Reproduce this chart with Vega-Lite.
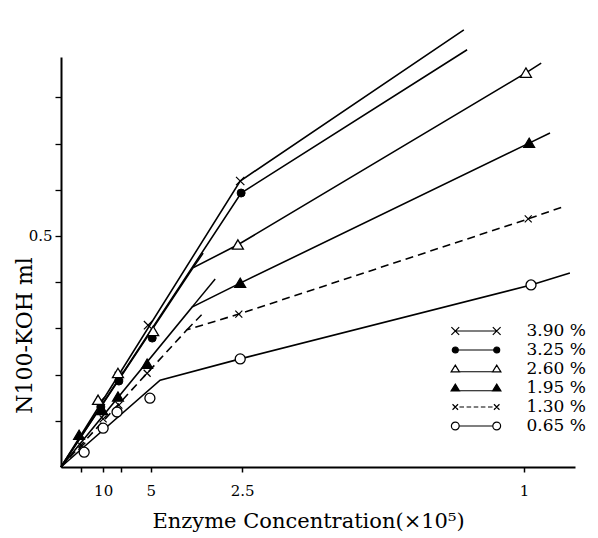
{
  "$schema": "https://vega.github.io/schema/vega-lite/v6.json",
  "autosize": "none",
  "padding": {"left": 61, "top": 57, "right": 23, "bottom": 71},
  "width": 514,
  "height": 410,
  "background": "white",
  "config": {"view": {"stroke": null}, "font": "DejaVu Serif"},
  "datasets": {
    "pts": [
      {"s": "3.90 %", "x": 0.086, "y": 0.143},
      {"s": "3.90 %", "x": 0.125, "y": 0.197},
      {"s": "3.90 %", "x": 0.188, "y": 0.307},
      {"s": "3.90 %", "x": 0.387, "y": 0.619},
      {"s": "3.25 %", "x": 0.086, "y": 0.130},
      {"s": "3.25 %", "x": 0.125, "y": 0.186},
      {"s": "3.25 %", "x": 0.197, "y": 0.279},
      {"s": "3.25 %", "x": 0.389, "y": 0.593},
      {"s": "2.60 %", "x": 0.080, "y": 0.145},
      {"s": "2.60 %", "x": 0.123, "y": 0.203},
      {"s": "2.60 %", "x": 0.199, "y": 0.294},
      {"s": "2.60 %", "x": 0.382, "y": 0.481},
      {"s": "2.60 %", "x": 1.004, "y": 0.853},
      {"s": "1.95 %", "x": 0.039, "y": 0.069},
      {"s": "1.95 %", "x": 0.089, "y": 0.123},
      {"s": "1.95 %", "x": 0.123, "y": 0.152},
      {"s": "1.95 %", "x": 0.186, "y": 0.223},
      {"s": "1.95 %", "x": 0.387, "y": 0.398},
      {"s": "1.95 %", "x": 1.011, "y": 0.701},
      {"s": "1.30 %", "x": 0.045, "y": 0.045},
      {"s": "1.30 %", "x": 0.091, "y": 0.104},
      {"s": "1.30 %", "x": 0.125, "y": 0.134},
      {"s": "1.30 %", "x": 0.186, "y": 0.203},
      {"s": "1.30 %", "x": 0.384, "y": 0.331},
      {"s": "1.30 %", "x": 1.009, "y": 0.537},
      {"s": "0.65 %", "x": 0.050, "y": 0.032},
      {"s": "0.65 %", "x": 0.091, "y": 0.084},
      {"s": "0.65 %", "x": 0.121, "y": 0.119},
      {"s": "0.65 %", "x": 0.192, "y": 0.149},
      {"s": "0.65 %", "x": 0.387, "y": 0.234},
      {"s": "0.65 %", "x": 1.015, "y": 0.394}
    ],
    "lines": [
      {"s": "3.90 %", "o": 1, "x": 0, "y": 0},
      {"s": "3.90 %", "o": 2, "x": 0.387, "y": 0.619},
      {"s": "3.90 %", "o": 3, "x": 0.870, "y": 0.946},
      {"s": "3.25 %", "o": 1, "x": 0, "y": 0},
      {"s": "3.25 %", "o": 2, "x": 0.389, "y": 0.593},
      {"s": "3.25 %", "o": 3, "x": 0.877, "y": 0.903},
      {"s": "2.60 %", "o": 1, "x": 0, "y": 0},
      {"s": "2.60 %", "o": 2, "x": 0.285, "y": 0.431},
      {"s": "2.60 %", "o": 3, "x": 0.382, "y": 0.481},
      {"s": "2.60 %", "o": 4, "x": 1.004, "y": 0.853},
      {"s": "2.60 %", "o": 5, "x": 1.037, "y": 0.874},
      {"s": "1.95 %", "o": 1, "x": 0, "y": 0},
      {"s": "1.95 %", "o": 2, "x": 0.283, "y": 0.346},
      {"s": "1.95 %", "o": 3, "x": 0.387, "y": 0.398},
      {"s": "1.95 %", "o": 4, "x": 1.011, "y": 0.701},
      {"s": "1.95 %", "o": 5, "x": 1.056, "y": 0.723},
      {"s": "1.30 %", "o": 1, "x": 0, "y": 0},
      {"s": "1.30 %", "o": 2, "x": 0.272, "y": 0.297},
      {"s": "1.30 %", "o": 3, "x": 0.384, "y": 0.331},
      {"s": "1.30 %", "o": 4, "x": 1.009, "y": 0.537},
      {"s": "1.30 %", "o": 5, "x": 1.089, "y": 0.565},
      {"s": "0.65 %", "o": 1, "x": 0, "y": 0},
      {"s": "0.65 %", "o": 2, "x": 0.214, "y": 0.188},
      {"s": "0.65 %", "o": 3, "x": 0.387, "y": 0.234},
      {"s": "0.65 %", "o": 4, "x": 1.015, "y": 0.394},
      {"s": "0.65 %", "o": 5, "x": 1.099, "y": 0.420}
    ],
    "stubs": [
      {"s": "2.60 %", "g": "a", "x": 0.285, "y": 0.431},
      {"s": "2.60 %", "g": "a", "x": 0.307, "y": 0.463},
      {"s": "1.95 %", "g": "b", "x": 0.283, "y": 0.346},
      {"s": "1.95 %", "g": "b", "x": 0.333, "y": 0.407},
      {"s": "1.30 %", "g": "c", "x": 0.272, "y": 0.297},
      {"s": "1.30 %", "g": "c", "x": 0.305, "y": 0.331}
    ]
  },
  "layer": [
    {
      "data": {"name": "lines"},
      "transform": [{"filter": "datum.s !== '1.30 %'"}],
      "mark": {"type": "line", "stroke": "black", "strokeWidth": 1.6},
      "encoding": {
        "x": {
          "field": "x", "type": "quantitative",
          "scale": {"domain": [0, 1.11], "nice": false, "zero": false},
          "axis": {
            "values": [0.043, 0.091, 0.13, 0.194, 0.391, 1.0],
            "labelExpr": "datum.value == 0.091 ? '10' : datum.value == 0.194 ? '5' : datum.value == 0.391 ? '2.5' : datum.value == 1 ? '1' : ''",
            "grid": false,
            "domainColor": "black", "domainWidth": 2,
            "tickColor": "black", "tickSize": 5, "tickWidth": 1.5,
            "labelFont": "DejaVu Serif", "labelFontSize": 15, "labelColor": "black",
            "labelPadding": 11, "labelFlush": false, "labelOverlap": false,
            "title": "Enzyme Concentration(×10⁵)",
            "titleFont": "DejaVu Serif", "titleFontSize": 21, "titleFontWeight": "normal",
            "titleColor": "black", "titleX": 247, "titleY": 54, "titleBaseline": "middle"
          }
        },
        "y": {
          "field": "y", "type": "quantitative",
          "scale": {"domain": [0, 0.8874], "nice": false, "zero": false},
          "axis": {
            "values": [0.1, 0.2, 0.3, 0.4, 0.5, 0.6, 0.7, 0.8],
            "labelExpr": "datum.value == 0.5 ? '0.5' : ''",
            "grid": false,
            "domainColor": "black", "domainWidth": 2,
            "tickColor": "black", "tickSize": 6, "tickWidth": 1.3,
            "labelFont": "DejaVu Serif", "labelFontSize": 15, "labelColor": "black",
            "labelPadding": 3, "labelOverlap": false,
            "title": "N100-KOH ml",
            "titleFont": "DejaVu Serif", "titleFontSize": 22, "titleFontWeight": "normal",
            "titleColor": "black", "titleX": -25, "titleY": 278
          }
        },
        "detail": {"field": "s"},
        "order": {"field": "o"}
      }
    },
    {
      "data": {"name": "lines"},
      "transform": [{"filter": "datum.s === '1.30 %'"}],
      "mark": {"type": "line", "stroke": "black", "strokeWidth": 1.6, "strokeDash": [8, 5]},
      "encoding": {
        "x": {"field": "x", "type": "quantitative"},
        "y": {"field": "y", "type": "quantitative"},
        "order": {"field": "o"}
      }
    },
    {
      "data": {"name": "stubs"},
      "transform": [{"filter": "datum.s !== '1.30 %'"}],
      "mark": {"type": "line", "stroke": "black", "strokeWidth": 1.5},
      "encoding": {
        "x": {"field": "x", "type": "quantitative"},
        "y": {"field": "y", "type": "quantitative"},
        "detail": {"field": "g"}
      }
    },
    {
      "data": {"name": "stubs"},
      "transform": [{"filter": "datum.s === '1.30 %'"}],
      "mark": {"type": "line", "stroke": "black", "strokeWidth": 1.5, "strokeDash": [8, 5]},
      "encoding": {
        "x": {"field": "x", "type": "quantitative"},
        "y": {"field": "y", "type": "quantitative"}
      }
    },
    {
      "data": {"name": "pts"},
      "transform": [{"filter": "datum.s === '3.90 %'"}],
      "mark": {"type": "point", "shape": "M-1,-1L1,1M-1,1L1,-1", "size": 70, "stroke": "black", "strokeWidth": 1.2, "fill": "transparent", "opacity": 1},
      "encoding": {
        "x": {"field": "x", "type": "quantitative"},
        "y": {"field": "y", "type": "quantitative"}
      }
    },
    {
      "data": {"name": "pts"},
      "transform": [{"filter": "datum.s === '1.30 %'"}],
      "mark": {"type": "point", "shape": "M-1,-1L1,1M-1,1L1,-1", "size": 49, "stroke": "black", "strokeWidth": 1.2, "fill": "transparent", "opacity": 1},
      "encoding": {
        "x": {"field": "x", "type": "quantitative"},
        "y": {"field": "y", "type": "quantitative"}
      }
    },
    {
      "data": {"name": "pts"},
      "transform": [{"filter": "datum.s === '3.25 %'"}],
      "mark": {"type": "point", "shape": "circle", "size": 64, "stroke": "black", "strokeWidth": 1, "fill": "black", "filled": true, "opacity": 1},
      "encoding": {
        "x": {"field": "x", "type": "quantitative"},
        "y": {"field": "y", "type": "quantitative"}
      }
    },
    {
      "data": {"name": "pts"},
      "transform": [{"filter": "datum.s === '2.60 %'"}],
      "mark": {"type": "point", "shape": "M0,-0.9L1,0.8L-1,0.8Z", "size": 121, "stroke": "black", "strokeWidth": 1.3, "fill": "white", "filled": true, "opacity": 1},
      "encoding": {
        "x": {"field": "x", "type": "quantitative"},
        "y": {"field": "y", "type": "quantitative"}
      }
    },
    {
      "data": {"name": "pts"},
      "transform": [{"filter": "datum.s === '1.95 %'"}],
      "mark": {"type": "point", "shape": "M0,-0.9L1,0.8L-1,0.8Z", "size": 121, "stroke": "black", "strokeWidth": 1.2, "fill": "black", "filled": true, "opacity": 1},
      "encoding": {
        "x": {"field": "x", "type": "quantitative"},
        "y": {"field": "y", "type": "quantitative"}
      }
    },
    {
      "data": {"name": "pts"},
      "transform": [{"filter": "datum.s === '0.65 %'"}],
      "mark": {"type": "point", "shape": "circle", "size": 100, "stroke": "black", "strokeWidth": 1.3, "fill": "white", "filled": true, "opacity": 1},
      "encoding": {
        "x": {"field": "x", "type": "quantitative"},
        "y": {"field": "y", "type": "quantitative"}
      }
    },
    {
      "data": {"name": "pts"},
      "transform": [{"filter": "false"}],
      "mark": {"type": "point", "strokeWidth": 1.2, "size": 361, "opacity": 1},
      "encoding": {
        "x": {"field": "x", "type": "quantitative"},
        "y": {"field": "y", "type": "quantitative"},
        "shape": {
          "field": "s", "type": "nominal",
          "scale": {
            "domain": ["3.90 %", "3.25 %", "2.60 %", "1.95 %", "1.30 %", "0.65 %"],
            "range": [
              "M-2.18,0L2.18,0M-2.59,-0.41L-1.77,0.41M-2.59,0.41L-1.77,-0.41M1.77,-0.41L2.59,0.41M1.77,0.41L2.59,-0.41",
              "M-2.18,0L2.18,0M-1.865,0A0.315,0.315 0 1 1 -2.495,0A0.315,0.315 0 1 1 -1.865,0ZM2.495,0A0.315,0.315 0 1 1 1.865,0A0.315,0.315 0 1 1 2.495,0Z",
              "M-1.74,0.29L1.74,0.29M-2.18,-0.41L-1.74,0.31L-2.62,0.31ZM2.18,-0.41L2.62,0.31L1.74,0.31Z",
              "M-1.74,0.29L1.74,0.29M-2.18,-0.41L-1.74,0.31L-2.62,0.31ZM2.18,-0.41L2.62,0.31L1.74,0.31Z",
              "M-2.47,-0.29L-1.89,0.29M-2.47,0.29L-1.89,-0.29M1.89,-0.29L2.47,0.29M1.89,0.29L2.47,-0.29M-1.74,0L-1.26,0M-0.99,0L-0.51,0M-0.24,0L0.24,0M0.51,0L0.99,0M1.26,0L1.74,0",
              "M-1.77,0L1.77,0M-1.77,0A0.41,0.41 0 1 1 -2.59,0A0.41,0.41 0 1 1 -1.77,0ZM2.59,0A0.41,0.41 0 1 1 1.77,0A0.41,0.41 0 1 1 2.59,0Z"
            ]
          },
          "legend": {
            "title": null, "orient": "none", "legendX": 404.5, "legendY": 263.5,
            "padding": 0, "rowPadding": 0, "symbolSize": 361,
            "symbolStrokeWidth": 1.2, "symbolOpacity": 1,
            "labelFont": "DejaVu Serif", "labelFontSize": 17, "labelColor": "black",
            "labelOffset": 40, "labelLimit": 200,
            "labelExpr": "replace(datum.label, ' %', '  %')"
          }
        },
        "fill": {
          "field": "s", "type": "nominal",
          "scale": {
            "domain": ["3.90 %", "3.25 %", "2.60 %", "1.95 %", "1.30 %", "0.65 %"],
            "range": ["transparent", "black", "white", "black", "transparent", "white"]
          },
          "legend": {
            "title": null, "orient": "none", "legendX": 404.5, "legendY": 263.5,
            "padding": 0, "rowPadding": 0, "symbolSize": 361,
            "symbolStrokeWidth": 1.2, "symbolOpacity": 1,
            "labelFont": "DejaVu Serif", "labelFontSize": 17, "labelColor": "black",
            "labelOffset": 40, "labelLimit": 200,
            "labelExpr": "replace(datum.label, ' %', '  %')"
          }
        },
        "stroke": {
          "field": "s", "type": "nominal",
          "scale": {
            "domain": ["3.90 %", "3.25 %", "2.60 %", "1.95 %", "1.30 %", "0.65 %"],
            "range": ["black", "black", "black", "black", "black", "black"]
          },
          "legend": {
            "title": null, "orient": "none", "legendX": 404.5, "legendY": 263.5,
            "padding": 0, "rowPadding": 0, "symbolSize": 361,
            "symbolStrokeWidth": 1.2, "symbolOpacity": 1,
            "labelFont": "DejaVu Serif", "labelFontSize": 17, "labelColor": "black",
            "labelOffset": 40, "labelLimit": 200,
            "labelExpr": "replace(datum.label, ' %', '  %')"
          }
        }
      }
    }
  ]
}
